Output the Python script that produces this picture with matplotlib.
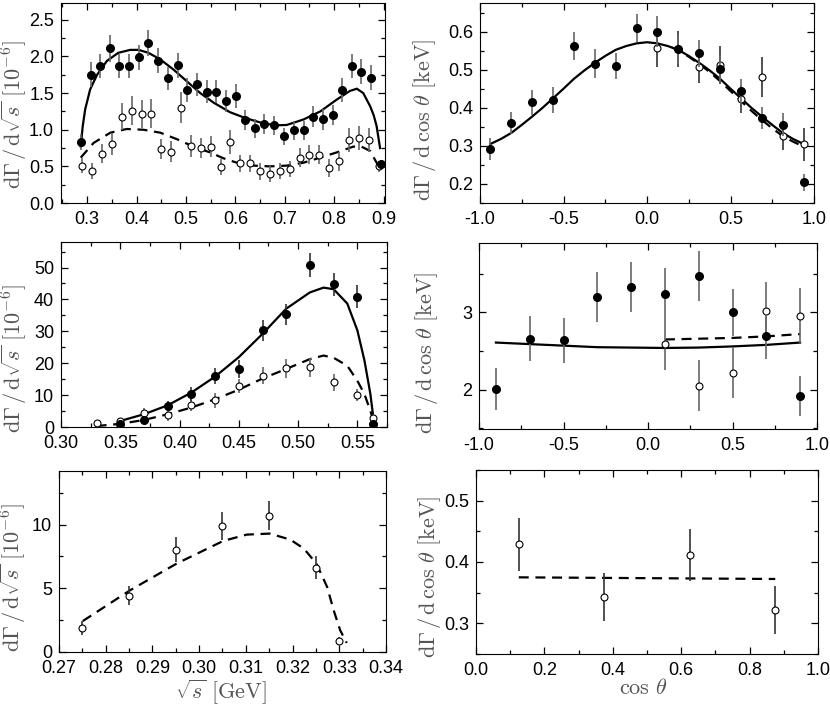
import matplotlib
matplotlib.use('Agg')
from matplotlib import pyplot as plt
from matplotlib.ticker import MultipleLocator, FormatStrFormatter

plt.rcParams['font.family'] = ['Liberation Sans', 'DejaVu Sans']
plt.rcParams['mathtext.fontset'] = 'cm'
plt.rcParams['axes.unicode_minus'] = False

# ---- panel 1: dGamma/dsqrt(s), wide range
p1_full_x = [0.287, 0.307, 0.326, 0.346, 0.365, 0.385, 0.405, 0.424, 0.444, 0.463, 0.483,
             0.503, 0.522, 0.542, 0.561, 0.581, 0.601, 0.620, 0.640, 0.659, 0.679, 0.699,
             0.718, 0.738, 0.757, 0.777, 0.797, 0.816, 0.836, 0.855, 0.875, 0.895]
p1_full_y = [0.83, 1.75, 1.87, 2.11, 1.87, 1.87, 1.99, 2.18, 1.94, 1.70, 1.88,
             1.54, 1.62, 1.52, 1.52, 1.39, 1.46, 1.13, 1.02, 1.08, 1.06, 0.91,
             0.99, 0.99, 1.18, 1.14, 1.20, 1.54, 1.87, 1.79, 1.71, 0.53]
p1_full_e = [0.11, 0.17, 0.17, 0.18, 0.17, 0.17, 0.17, 0.18, 0.17, 0.16, 0.17,
             0.16, 0.16, 0.16, 0.16, 0.15, 0.16, 0.14, 0.13, 0.14, 0.13, 0.12,
             0.13, 0.13, 0.14, 0.14, 0.14, 0.16, 0.17, 0.17, 0.17, 0.06]
p1_open_x = [0.29, 0.31, 0.33, 0.35, 0.37, 0.39, 0.41, 0.43, 0.45, 0.47, 0.49,
             0.51, 0.53, 0.55, 0.57, 0.59, 0.61, 0.63, 0.65, 0.67, 0.69, 0.71,
             0.73, 0.75, 0.77, 0.79, 0.81, 0.83, 0.85, 0.87, 0.89]
p1_open_y = [0.51, 0.44, 0.67, 0.81, 1.18, 1.26, 1.21, 1.22, 0.74, 0.70, 1.30,
             0.78, 0.75, 0.77, 0.49, 0.83, 0.54, 0.54, 0.43, 0.40, 0.44, 0.46,
             0.62, 0.66, 0.66, 0.48, 0.57, 0.86, 0.89, 0.86, 0.50]
p1_open_e = [0.10, 0.11, 0.13, 0.15, 0.19, 0.20, 0.19, 0.20, 0.14, 0.14, 0.21,
             0.15, 0.14, 0.14, 0.11, 0.16, 0.12, 0.12, 0.11, 0.11, 0.11, 0.11,
             0.13, 0.13, 0.13, 0.12, 0.13, 0.16, 0.16, 0.16, 0.08]
p1_solid_x = [0.287, 0.291, 0.296, 0.306, 0.320, 0.340, 0.363, 0.387, 0.404, 0.424, 0.448,
              0.475, 0.502, 0.529, 0.556, 0.589, 0.620, 0.650, 0.680, 0.704, 0.738,
              0.772, 0.805, 0.832, 0.846, 0.859, 0.873, 0.880, 0.886, 0.893]
p1_solid_y = [0.77, 1.05, 1.28, 1.55, 1.75, 1.94, 2.05, 2.09, 2.09, 2.05, 1.96,
              1.82, 1.66, 1.50, 1.37, 1.24, 1.16, 1.10, 1.06, 1.065, 1.14,
              1.25, 1.41, 1.53, 1.56, 1.50, 1.32, 1.20, 1.05, 0.75]
p1_dash_x = [0.287, 0.313, 0.347, 0.380, 0.414, 0.448, 0.482, 0.515, 0.549, 0.576,
             0.603, 0.637, 0.670, 0.704, 0.738, 0.772, 0.805, 0.839, 0.855, 0.873,
             0.886, 0.893]
p1_dash_y = [0.62, 0.82, 0.96, 1.01, 1.00, 0.96, 0.87, 0.77, 0.69, 0.61,
             0.55, 0.51, 0.50, 0.51, 0.55, 0.62, 0.69, 0.77, 0.77, 0.71,
             0.55, 0.50]

# ---- panel 2: dGamma/dcos(theta)
p2_full_x = [-0.9375, -0.8125, -0.6875, -0.5625, -0.4375, -0.3125, -0.1875, -0.0625,
             0.0625, 0.1875, 0.3125, 0.4375, 0.5625, 0.6875, 0.8125, 0.9375]
p2_full_y = [0.292, 0.359, 0.414, 0.421, 0.563, 0.516, 0.510, 0.610,
             0.600, 0.554, 0.543, 0.502, 0.443, 0.373, 0.356, 0.204]
p2_full_e = [0.028, 0.029, 0.033, 0.034, 0.037, 0.037, 0.035, 0.037,
             0.040, 0.040, 0.035, 0.037, 0.032, 0.030, 0.030, 0.023]
p2_open_x = [0.0625, 0.1875, 0.3125, 0.4375, 0.5625, 0.6875, 0.8125, 0.9375]
p2_open_y = [0.556, 0.554, 0.508, 0.513, 0.422, 0.480, 0.325, 0.304]
p2_open_e = [0.050, 0.048, 0.044, 0.050, 0.036, 0.052, 0.035, 0.044]
p2_solid_x = [-0.9375, -0.875, -0.8125, -0.75, -0.6875, -0.625, -0.5625, -0.5, -0.4375,
              -0.375, -0.3125, -0.25, -0.1875, -0.125, -0.0625, 0.0,
              0.0625, 0.125, 0.1875, 0.25, 0.3125, 0.375, 0.4375, 0.5, 0.5625,
              0.625, 0.6875, 0.75, 0.8125, 0.875, 0.9375]
p2_solid_y = [0.305, 0.318, 0.334, 0.355, 0.377, 0.400, 0.425, 0.450, 0.476,
              0.498, 0.518, 0.536, 0.552, 0.562, 0.569, 0.572,
              0.569, 0.562, 0.552, 0.536, 0.518, 0.498, 0.476, 0.450, 0.425,
              0.400, 0.377, 0.355, 0.334, 0.318, 0.305]
p2_dash_x = [0.15, 0.1875, 0.25, 0.3125, 0.375, 0.4375, 0.5, 0.5625, 0.625, 0.6875,
             0.75, 0.8125, 0.875, 0.9375]
p2_dash_y = [0.558, 0.551, 0.534, 0.515, 0.494, 0.470, 0.444, 0.418, 0.392, 0.368,
             0.346, 0.326, 0.311, 0.298]

# ---- panel 3
p3_full_x = [0.35, 0.37, 0.39, 0.41, 0.43, 0.45, 0.47, 0.49, 0.51, 0.53, 0.55, 0.563]
p3_full_y = [0.85, 2.2, 6.7, 10.4, 16.0, 18.2, 30.3, 35.3, 50.8, 44.8, 40.8, 1.0]
p3_full_e = [1.0, 1.2, 1.6, 2.1, 2.4, 2.8, 3.4, 3.2, 3.7, 3.6, 3.6, 0.6]
p3_open_x = [0.33, 0.35, 0.37, 0.39, 0.41, 0.43, 0.45, 0.47, 0.49, 0.51, 0.53, 0.55, 0.563]
p3_open_y = [1.4, 1.9, 4.5, 3.7, 6.9, 8.4, 12.9, 16.1, 18.4, 18.7, 14.0, 10.0, 2.9]
p3_open_e = [0.6, 0.9, 1.6, 1.9, 1.9, 2.4, 2.1, 2.6, 2.9, 2.9, 2.6, 2.0, 1.2]
p3_solid_x = [0.35, 0.37, 0.39, 0.41, 0.43, 0.45, 0.47, 0.49, 0.51, 0.5215, 0.53,
              0.5415, 0.55, 0.556, 0.561, 0.564]
p3_solid_y = [1.9, 4.0, 6.8, 10.8, 15.8, 21.9, 29.2, 37.1, 42.2, 43.7, 43.2,
              38.7, 30.3, 20.8, 10.3, 1.4]
p3_dash_x = [0.33, 0.35, 0.37, 0.39, 0.41, 0.43, 0.45, 0.47, 0.49, 0.51, 0.5215, 0.53,
             0.5415, 0.55, 0.556, 0.561, 0.564]
p3_dash_y = [0.3, 1.0, 2.2, 4.0, 6.1, 8.7, 11.7, 15.2, 18.2, 21.3, 22.4, 21.7,
             19.2, 14.5, 10.3, 5.0, 1.4]

# ---- panel 4
p4_full_x = [-0.9, -0.7, -0.5, -0.3, -0.1, 0.1, 0.3, 0.5, 0.7, 0.9]
p4_full_y = [2.01, 2.66, 2.64, 3.20, 3.33, 3.24, 3.47, 3.00, 2.69, 1.92]
p4_full_e = [0.27, 0.29, 0.29, 0.32, 0.32, 0.33, 0.32, 0.31, 0.29, 0.26]
p4_open_x = [0.1, 0.3, 0.5, 0.7, 0.9]
p4_open_y = [2.59, 2.05, 2.22, 3.02, 2.96]
p4_open_e = [0.33, 0.33, 0.33, 0.38, 0.36]
p4_solid_x = [-0.9, -0.7, -0.5, -0.3, -0.1, 0.1, 0.3, 0.5, 0.7, 0.9]
p4_solid_y = [2.61, 2.59, 2.57, 2.55, 2.545, 2.54, 2.545, 2.56, 2.58, 2.61]
p4_dash_x = [0.1, 0.3, 0.5, 0.7, 0.9]
p4_dash_y = [2.65, 2.66, 2.67, 2.69, 2.72]

# ---- panel 5
p5_open_x = [0.275, 0.285, 0.295, 0.305, 0.315, 0.325, 0.330]
p5_open_y = [1.88, 4.40, 8.04, 9.90, 10.68, 6.62, 0.86]
p5_open_e = [0.56, 0.75, 0.96, 1.10, 1.14, 0.92, 0.30]
p5_dash_x = [0.2751, 0.2852, 0.2952, 0.3052, 0.3102, 0.3151, 0.3195, 0.3224, 0.3251,
             0.3274, 0.3288, 0.3302, 0.3316]
p5_dash_y = [2.43, 4.84, 6.94, 8.72, 9.21, 9.29, 8.82, 8.12, 6.94,
             5.10, 3.27, 1.70, 0.71]

# ---- panel 6
p6_open_x = [0.125, 0.375, 0.625, 0.875]
p6_open_y = [0.429, 0.343, 0.411, 0.322]
p6_open_e = [0.043, 0.039, 0.042, 0.039]
p6_dash_x = [0.125, 0.875]
p6_dash_y = [0.375, 0.3723]

ylab_s = r'$\mathrm{d}\Gamma\,/\,\mathrm{d}\sqrt{s}\ [10^{-6}]$'
ylab_c = r'$\mathrm{d}\Gamma\,/\,\mathrm{d}\,\cos\,\theta\ [\mathrm{keV}]$'
lab_col = '#555555'
bar_col = '#666666'

fig = plt.figure(figsize=(8.3, 7.06), dpi=100)
W, H = 830.0, 706.0


def make_ax(l, r, t, b):
    ax = fig.add_axes([l / W, 1 - b / H, (r - l) / W, (b - t) / H])
    ax.tick_params(which='both', direction='in', top=True, right=True, labelsize=13)
    ax.tick_params(which='major', length=5, width=0.9)
    ax.tick_params(which='minor', length=3, width=0.9)
    ax.tick_params(axis='x', pad=5.5)
    ax.tick_params(axis='y', pad=5)
    return ax


def pts(ax, x, y, e, filled, ecol=bar_col):
    if filled:
        ax.errorbar(x, y, yerr=e, fmt='o', ms=5.5, mfc='black', mec='black',
                    ecolor=ecol, elinewidth=1.2, capsize=0, zorder=4)
    else:
        ax.errorbar(x, y, yerr=e, fmt='o', ms=5, mfc='white', mec='black', mew=0.8,
                    ecolor=ecol, elinewidth=1.2, capsize=0, zorder=3)


def curves(ax, sx, sy, dx, dy):
    if sx is not None:
        ax.plot(sx, sy, color='black', lw=1.6, zorder=2)
    ax.plot(dx, dy, color='black', lw=1.6, dashes=(4.5, 3), zorder=2)


def ylab(ax, text, xc, yc):
    ax.set_ylabel(text, fontsize=16, color=lab_col, va='center')
    ax.yaxis.set_label_coords(xc, yc)


# panel 1
ax = make_ax(61, 385, 3, 203)
curves(ax, p1_solid_x, p1_solid_y, p1_dash_x, p1_dash_y)
pts(ax, p1_open_x, p1_open_y, p1_open_e, False)
pts(ax, p1_full_x, p1_full_y, p1_full_e, True)
ax.set_xlim(0.247, 0.903)
ax.set_ylim(0, 2.73)
ax.xaxis.set_major_locator(MultipleLocator(0.1))
ax.xaxis.set_minor_locator(MultipleLocator(0.05))
ax.yaxis.set_major_locator(MultipleLocator(0.5))
ax.yaxis.set_minor_locator(MultipleLocator(0.25))
ax.xaxis.set_major_formatter(FormatStrFormatter('%.1f'))
ax.yaxis.set_major_formatter(FormatStrFormatter('%.1f'))
ylab(ax, ylab_s, -0.145, 0.44)

# panel 2
ax = make_ax(480, 814, 3, 203)
curves(ax, p2_solid_x, p2_solid_y, p2_dash_x, p2_dash_y)
pts(ax, p2_open_x, p2_open_y, p2_open_e, False, '#333333')
pts(ax, p2_full_x, p2_full_y, p2_full_e, True)
ax.set_xlim(-1, 1)
ax.set_ylim(0.15, 0.675)
ax.xaxis.set_major_locator(MultipleLocator(0.5))
ax.xaxis.set_minor_locator(MultipleLocator(0.25))
ax.yaxis.set_major_locator(MultipleLocator(0.1))
ax.yaxis.set_minor_locator(MultipleLocator(0.05))
ax.xaxis.set_major_formatter(FormatStrFormatter('%.1f'))
ax.yaxis.set_major_formatter(FormatStrFormatter('%.1f'))
ylab(ax, ylab_c, -0.165, 0.415)

# panel 3
ax = make_ax(61, 387, 242, 427)
curves(ax, p3_solid_x, p3_solid_y, p3_dash_x, p3_dash_y)
pts(ax, p3_open_x, p3_open_y, p3_open_e, False)
pts(ax, p3_full_x, p3_full_y, p3_full_e, True, '#333333')
ax.set_xlim(0.30, 0.575)
ax.set_ylim(0, 58)
ax.xaxis.set_major_locator(MultipleLocator(0.05))
ax.xaxis.set_minor_locator(MultipleLocator(0.025))
ax.yaxis.set_major_locator(MultipleLocator(10))
ax.yaxis.set_minor_locator(MultipleLocator(5))
ax.xaxis.set_major_formatter(FormatStrFormatter('%.2f'))
ylab(ax, ylab_s, -0.144, 0.37)

# panel 4
ax = make_ax(479, 817, 243, 429)
curves(ax, p4_solid_x, p4_solid_y, p4_dash_x, p4_dash_y)
pts(ax, p4_open_x, p4_open_y, p4_open_e, False)
pts(ax, p4_full_x, p4_full_y, p4_full_e, True)
ax.set_xlim(-1, 1)
ax.set_ylim(1.49, 3.9)
ax.xaxis.set_major_locator(MultipleLocator(0.5))
ax.xaxis.set_minor_locator(MultipleLocator(0.25))
ax.yaxis.set_major_locator(MultipleLocator(1))
ax.yaxis.set_minor_locator(MultipleLocator(0.5))
ax.xaxis.set_major_formatter(FormatStrFormatter('%.1f'))
ax.yaxis.set_major_formatter(FormatStrFormatter('%d'))
ylab(ax, ylab_c, -0.154, 0.41)

# panel 5
ax = make_ax(59, 386, 471, 652)
curves(ax, None, None, p5_dash_x, p5_dash_y)
pts(ax, p5_open_x, p5_open_y, p5_open_e, False, '#333333')
ax.set_xlim(0.27, 0.34)
ax.set_ylim(0, 14.2)
ax.xaxis.set_major_locator(MultipleLocator(0.01))
ax.xaxis.set_minor_locator(MultipleLocator(0.005))
ax.yaxis.set_major_locator(MultipleLocator(5))
ax.yaxis.set_minor_locator(MultipleLocator(2.5))
ax.xaxis.set_major_formatter(FormatStrFormatter('%.2f'))
ax.yaxis.set_major_formatter(FormatStrFormatter('%d'))
ylab(ax, ylab_s, -0.139, 0.41)
ax.set_xlabel(r'$\sqrt{s}\ [\mathrm{GeV}]$', fontsize=16, color=lab_col, va='center')
ax.xaxis.set_label_coords(0.495, -0.225)

# panel 6
ax = make_ax(476, 818, 470, 654)
curves(ax, None, None, p6_dash_x, p6_dash_y)
pts(ax, p6_open_x, p6_open_y, p6_open_e, False, '#333333')
ax.set_xlim(0, 1)
ax.set_ylim(0.25, 0.55)
ax.xaxis.set_major_locator(MultipleLocator(0.2))
ax.xaxis.set_minor_locator(MultipleLocator(0.1))
ax.yaxis.set_major_locator(MultipleLocator(0.1))
ax.yaxis.set_minor_locator(MultipleLocator(0.05))
ax.xaxis.set_major_formatter(FormatStrFormatter('%.1f'))
ax.yaxis.set_major_formatter(FormatStrFormatter('%.1f'))
ylab(ax, ylab_c, -0.137, 0.42)
ax.set_xlabel(r'$\cos\,\theta$', fontsize=16, color=lab_col, va='center')
ax.xaxis.set_label_coords(0.49, -0.19)

fig.savefig('out.png', dpi=100)
